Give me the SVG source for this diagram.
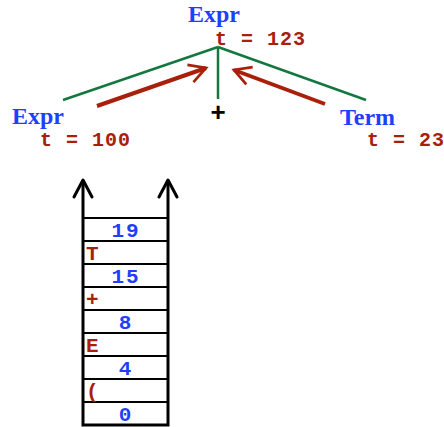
<svg xmlns="http://www.w3.org/2000/svg" width="444" height="427" viewBox="0 0 444 427">
<style>
.nt{font-family:"Liberation Serif",serif;font-weight:bold;font-size:24px;fill:#1f3fff}
.t{font-family:"Liberation Mono",monospace;font-weight:bold;font-size:20px;fill:#a8200c;letter-spacing:1px}
.num{font-family:"Liberation Mono",monospace;font-weight:bold;font-size:21px;fill:#1f3fff;text-anchor:middle;letter-spacing:2px}
.sym{font-family:"Liberation Mono",monospace;font-weight:bold;font-size:21px;fill:#a8200c}
.tree{stroke:#13773f;stroke-width:2.5;fill:none}
.red{stroke:#a8200c;stroke-width:4;fill:none}
.row{fill:#fff;stroke:#000;stroke-width:2}
</style>
<defs>
<marker id="ra" viewBox="0 0 12 12" refX="10" refY="6" markerWidth="5.5" markerHeight="5.5" orient="auto" markerUnits="strokeWidth">
<path d="M1,1 L10,6 L1,11" fill="none" stroke="#a8200c" stroke-width="1.5"/>
</marker>
</defs>
<g id="connectors">
<line class="tree" x1="218" y1="47" x2="63" y2="100"/>
<line class="tree" x1="218" y1="47" x2="366" y2="100"/>
<line class="tree" x1="218" y1="47" x2="218" y2="99"/>
<line class="red" x1="97" y1="106" x2="206" y2="68" marker-end="url(#ra)"/>
<line class="red" x1="325" y1="104" x2="234" y2="70" marker-end="url(#ra)"/>
</g>
<g id="root"><text class="nt" x="188" y="22">Expr</text><text class="t" x="215" y="45">t = 123</text></g>
<g id="plus"><text x="218" y="121" text-anchor="middle" style="font-family:'Liberation Sans',sans-serif;font-weight:bold;font-size:26px;fill:#000">+</text></g>
<g id="left"><text class="nt" x="12" y="124">Expr</text><text class="t" x="40" y="146">t = 100</text></g>
<g id="right"><text class="nt" x="340" y="125">Term</text><text class="t" x="367" y="146">t = 23</text></g>
<g id="stack">
<rect class="row" x="83" y="218" width="85" height="23"/>
<rect class="row" x="83" y="241" width="85" height="23"/>
<rect class="row" x="83" y="264" width="85" height="23"/>
<rect class="row" x="83" y="287" width="85" height="23"/>
<rect class="row" x="83" y="310" width="85" height="23"/>
<rect class="row" x="83" y="333" width="85" height="23"/>
<rect class="row" x="83" y="356" width="85" height="23"/>
<rect class="row" x="83" y="379" width="85" height="23"/>
<rect class="row" x="83" y="402" width="85" height="23"/>
<path d="M83,180 L83,425 L168,425 L168,180" fill="none" stroke="#000" stroke-width="3"/>
<path d="M74,197 L83,180 L92,197 M159,197 L168,180 L177,197" fill="none" stroke="#000" stroke-width="3" stroke-linecap="round" stroke-linejoin="round"/>
<text class="num" x="126" y="237">19</text>
<text class="sym" x="86" y="260">T</text>
<text class="num" x="126" y="283">15</text>
<text class="sym" x="86" y="306">+</text>
<text class="num" x="126" y="329">8</text>
<text class="sym" x="86" y="352">E</text>
<text class="num" x="126" y="375">4</text>
<text class="sym" x="86" y="398">(</text>
<text class="num" x="126" y="421">0</text>
</g>
</svg>
